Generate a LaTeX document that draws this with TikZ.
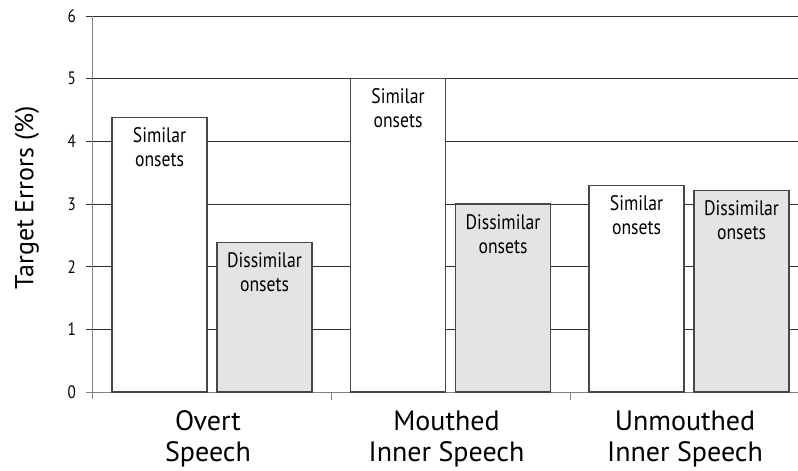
\documentclass[tikz,border=0pt]{standalone}
\usepackage{fontspec}
\setmainfont{PT Sans}
\newfontfamily\narrowfont[FakeStretch=0.84]{PT Sans}
\definecolor{gridgray}{HTML}{333333}
\definecolor{axisgray}{HTML}{808080}
\definecolor{barfill}{HTML}{E3E4E6}
\tikzset{
  barbox/.style={draw=gridgray!90, line width=1.1pt},
  barlabel/.style={anchor=north, align=center, inner sep=0pt,
    font=\narrowfont\fontsize{21}{24}\selectfont},
  ticklabel/.style={anchor=east, inner sep=0pt,
    font=\narrowfont\fontsize{18}{18}\selectfont},
  grouplabel/.style={anchor=north, align=center, inner sep=0pt,
    font=\fontsize{28}{31}\selectfont}
}
\begin{document}
\begin{tikzpicture}[x=1pt, y=62.67pt]
\useasboundingbox (-92,-1.2606) rectangle (706,6.2550);
% grid and value axis
\foreach \k in {1,...,6}
  \draw [gridgray, line width=0.9pt] (-6,\k) -- (706,\k);
\foreach \k in {0,...,6}
  \node [ticklabel] (tick\k) at (-16,\k) {\k};
\draw [axisgray, line width=0.9pt] (-6,0) -- (706,0);
\draw [axisgray, line width=0.8pt] (0,6) -- (0,-0.11);
\draw [axisgray, line width=0.8pt] (239,0) -- (239,-0.13);
\draw [axisgray, line width=0.8pt] (478,0) -- (478,-0.13);
\node [rotate=90, font=\fontsize{26}{26}\selectfont] (ylab) at (-65,3.1) {Target Errors (\%)};
% bars
\foreach \g/\s/\d/\name in {0/4.38/2.39/{Overt\\Speech},
                            238.5/5.0/3.0/{Mouthed\\Inner Speech},
                            477/3.3/3.22/{Unmouthed\\Inner Speech}} {
  \draw [barbox, fill=white] (20+\g,0) rectangle (115+\g,\s);
  \draw [barbox, fill=barfill] (125+\g,0) rectangle (220+\g,\d);
  \node [barlabel] at (67.5+\g,\s-0.16) {Similar\\onsets};
  \node [barlabel] at (172.5+\g,\d-0.16) {Dissimilar\\onsets};
  \node [grouplabel] at (116+\g,-0.30) {\name};
}
\end{tikzpicture}
\end{document}
